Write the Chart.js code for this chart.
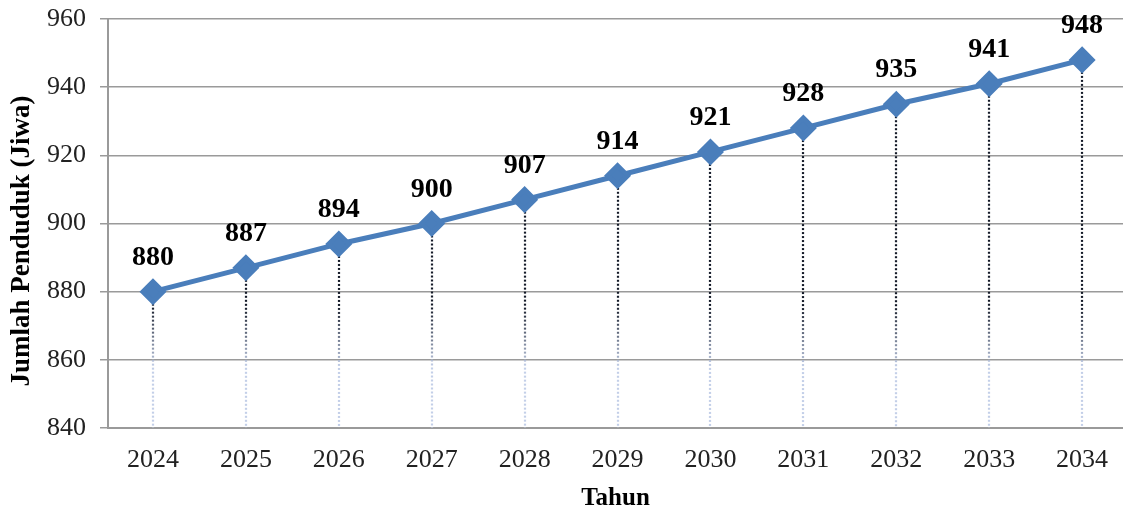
<!DOCTYPE html>
<html>
<head>
<meta charset="utf-8">
<script src="https://cdn.jsdelivr.net/npm/chart.js@4.4.0/dist/chart.umd.min.js"></script>
<style>
  html, body { margin: 0; padding: 0; overflow: hidden; background: #fff; }
  canvas { display: block; }
</style>
</head>
<body>
<canvas id="myChart" width="1123" height="506"></canvas>
<script>
const years = [2024, 2025, 2026, 2027, 2028, 2029, 2030, 2031, 2032, 2033, 2034]
const penduduk = [880, 887, 894, 900, 907, 914, 921, 928, 935, 941, 948]
const yTicks = [840, 860, 880, 900, 920, 940, 960]

const serif = '"Liberation Serif", "DejaVu Serif", serif'

// dotted drop lines from each point to the x axis
const dropLines = {
    id: 'dropLines',
    beforeDatasetsDraw(chart) {
        const ctx = chart.ctx
        const x = chart.scales.x
        const y = chart.scales.y
        const bottom = chart.chartArea.bottom
        const grad = ctx.createLinearGradient(0, y.getPixelForValue(876), 0, y.getPixelForValue(858))
        grad.addColorStop(0, '#141a28')
        grad.addColorStop(1, '#c3cfe8')
        ctx.save()
        ctx.strokeStyle = grad
        ctx.lineWidth = 2.2
        ctx.setLineDash([2, 2])
        years.forEach((yr, i) => {
            const px = Math.round(x.getPixelForValue(yr))
            ctx.beginPath()
            ctx.moveTo(px, y.getPixelForValue(penduduk[i]))
            ctx.lineTo(px, bottom)
            ctx.stroke()
        })
        ctx.restore()
    }
}

// value labels above points, plus the y axis title
const valueLabels = {
    id: 'valueLabels',
    afterDatasetsDraw(chart) {
        const ctx = chart.ctx
        const x = chart.scales.x
        const y = chart.scales.y
        ctx.save()
        ctx.font = 'bold 28px ' + serif
        ctx.fillStyle = '#000'
        ctx.textAlign = 'center'
        ctx.textBaseline = 'middle'
        years.forEach((yr, i) => {
            ctx.fillText(String(penduduk[i]), x.getPixelForValue(yr), y.getPixelForValue(penduduk[i]) - 34)
        })
        ctx.font = 'bold 27px ' + serif
        ctx.translate(22, 241)
        ctx.rotate(-Math.PI / 2)
        ctx.fillText('Jumlah Penduduk (Jiwa)', 0, 0)
        ctx.restore()
    }
}

let myChart = document.getElementById('myChart').getContext('2d')
let popChart = new Chart(myChart, {
    type: 'line',
    data: {
        datasets: [{
            data: years.map((yr, i) => ({ x: yr, y: penduduk[i] })),
            borderColor: '#4a7ebb',
            backgroundColor: '#4a7ebb',
            borderWidth: 5,
            pointStyle: 'rectRot',
            pointRadius: 10,
            pointHoverRadius: 10,
            tension: 0,
            clip: false
        }]
    },
    options: {
        responsive: false,
        animation: false,
        events: [],
        layout: { autoPadding: false, padding: { top: 19, right: 0, left: 0, bottom: 0 } },
        plugins: {
            legend: { display: false },
            tooltip: { enabled: false }
        },
        scales: {
            x: {
                type: 'linear',
                min: 2023.516,
                max: 2034.44,
                afterBuildTicks: scale => { scale.ticks = years.map(v => ({ value: v })) },
                afterFit: scale => {
                    scale.height = 78
                    scale.paddingLeft = 0
                    scale.paddingRight = 0
                },
                border: { color: '#9a9a9a', width: 2 },
                grid: { display: false, drawTicks: false },
                ticks: {
                    color: '#222',
                    font: { family: serif, size: 26 },
                    padding: 17,
                    maxRotation: 0,
                    autoSkip: false,
                    callback: v => String(v)
                },
                title: {
                    display: true,
                    text: 'Tahun',
                    color: '#000',
                    font: { family: serif, size: 25, weight: 'bold' },
                    padding: { top: 2, bottom: -8 }
                }
            },
            y: {
                min: 840,
                max: 960,
                afterBuildTicks: scale => { scale.ticks = yTicks.map(v => ({ value: v })) },
                afterFit: scale => {
                    scale.width = 108
                    scale.paddingTop = 0
                    scale.paddingBottom = 0
                },
                border: { color: '#9a9a9a', width: 2 },
                grid: { color: '#9a9a9a', lineWidth: 1.5, tickLength: 8 },
                ticks: {
                    color: '#222',
                    font: { family: serif, size: 26 },
                    padding: 14
                }
            }
        }
    },
    plugins: [dropLines, valueLabels]
})
</script>
</body>
</html>
